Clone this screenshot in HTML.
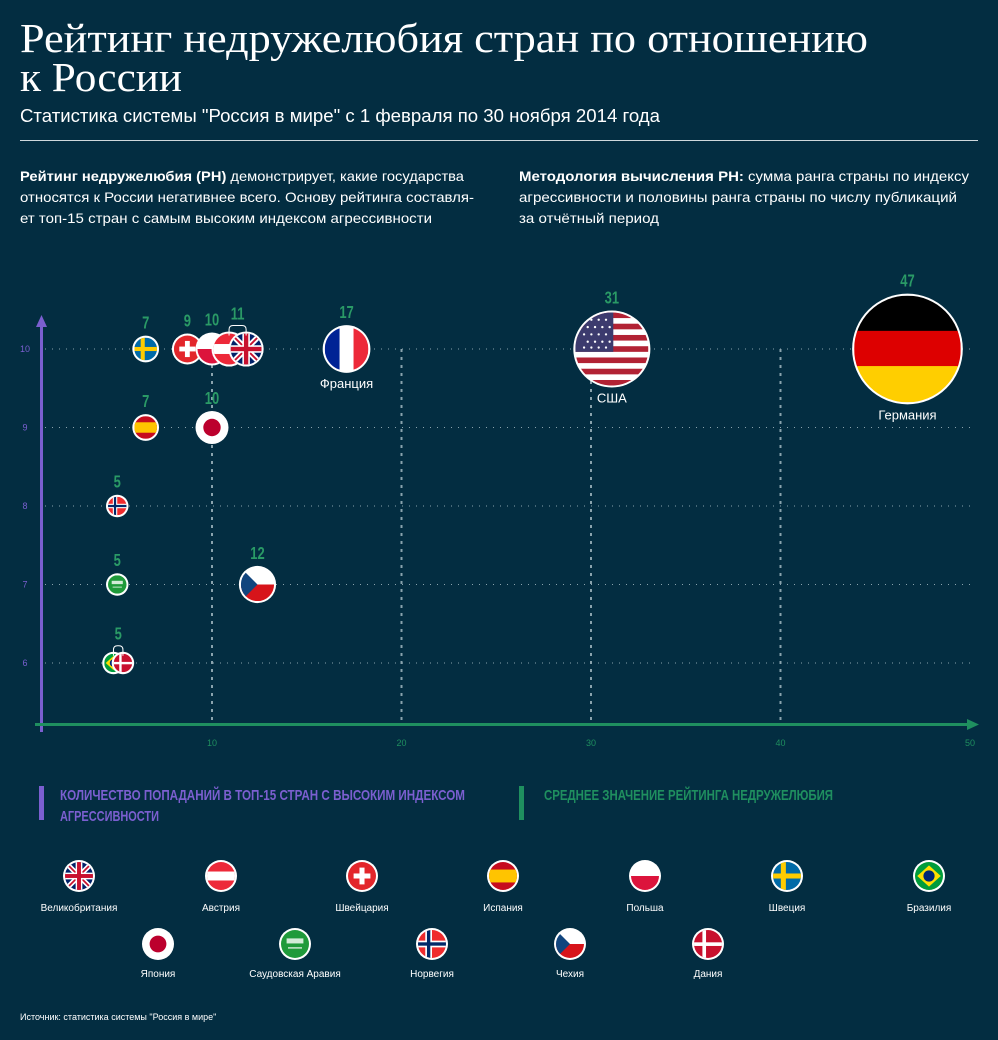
<!DOCTYPE html>
<html><head><meta charset="utf-8"><style>
html,body{margin:0;padding:0;background:#032d41;}
svg{display:block;}
.t{font-family:"Liberation Sans",sans-serif;fill:#fff;}
.n{font-family:"Liberation Sans Narrow","Liberation Sans",sans-serif;}
</style></head><body>
<svg id="root" width="998" height="1040" viewBox="0 0 998 1040" xmlns="http://www.w3.org/2000/svg">
<defs>
<clipPath id="cc" clipPathUnits="objectBoundingBox"><circle cx="0.5" cy="0.5" r="0.5"/></clipPath>
<symbol id="f-se" viewBox="0 0 100 100"><rect width="100" height="100" fill="#006aa7"/><rect x="28" width="18" height="100" fill="#fecc00"/><rect y="41" width="100" height="18" fill="#fecc00"/></symbol>
<symbol id="f-ch" viewBox="0 0 100 100"><rect width="100" height="100" fill="#e3262b"/><rect x="41" y="20" width="18" height="60" fill="#fff"/><rect x="20" y="41" width="60" height="18" fill="#fff"/></symbol>
<symbol id="f-pl" viewBox="0 0 100 100"><rect width="100" height="100" fill="#fff"/><rect y="50" width="100" height="50" fill="#dc143c"/></symbol>
<symbol id="f-at" viewBox="0 0 100 100"><rect width="100" height="100" fill="#ed2939"/><rect y="34" width="100" height="32" fill="#fff"/></symbol>
<symbol id="f-gb" viewBox="0 0 100 100"><rect width="100" height="100" fill="#012169"/><path d="M0 0L100 100M100 0L0 100" stroke="#fff" stroke-width="18"/><path d="M0 0L100 100M100 0L0 100" stroke="#c8102e" stroke-width="6"/><rect x="38" width="24" height="100" fill="#fff"/><rect y="38" width="100" height="24" fill="#fff"/><rect x="43" width="14" height="100" fill="#c8102e"/><rect y="43" width="100" height="14" fill="#c8102e"/></symbol>
<symbol id="f-fr" viewBox="0 0 100 100"><rect width="100" height="100" fill="#fff"/><rect width="34" height="100" fill="#002395"/><rect x="66" width="34" height="100" fill="#ed2939"/></symbol>
<symbol id="f-us" viewBox="0 0 100 100"><rect width="100" height="100" fill="#fff"/><g fill="#b22234"><rect y="0" width="100" height="7.7"/><rect y="15.4" width="100" height="7.7"/><rect y="30.8" width="100" height="7.7"/><rect y="46.2" width="100" height="7.7"/><rect y="61.6" width="100" height="7.7"/><rect y="77" width="100" height="7.7"/><rect y="92.4" width="100" height="7.7"/></g><rect width="52" height="53.9" fill="#3c3b6e"/><g fill="#fff"><circle cx="12" cy="10" r="1.6"/><circle cx="22" cy="10" r="1.6"/><circle cx="32" cy="10" r="1.6"/><circle cx="42" cy="10" r="1.6"/><circle cx="17" cy="20" r="1.6"/><circle cx="27" cy="20" r="1.6"/><circle cx="37" cy="20" r="1.6"/><circle cx="47" cy="20" r="1.6"/><circle cx="12" cy="30" r="1.6"/><circle cx="22" cy="30" r="1.6"/><circle cx="32" cy="30" r="1.6"/><circle cx="42" cy="30" r="1.6"/><circle cx="17" cy="40" r="1.6"/><circle cx="27" cy="40" r="1.6"/><circle cx="37" cy="40" r="1.6"/><circle cx="47" cy="40" r="1.6"/><circle cx="12" cy="48" r="1.6"/><circle cx="22" cy="48" r="1.6"/><circle cx="32" cy="48" r="1.6"/><circle cx="42" cy="48" r="1.6"/></g></symbol>
<symbol id="f-de" viewBox="0 0 100 100"><rect width="100" height="34" fill="#000"/><rect y="33" width="100" height="34" fill="#dd0000"/><rect y="66" width="100" height="34" fill="#ffce00"/></symbol>
<symbol id="f-es" viewBox="0 0 100 100"><rect width="100" height="100" fill="#c60b1e"/><rect y="27" width="100" height="46" fill="#ffc400"/></symbol>
<symbol id="f-jp" viewBox="0 0 100 100"><rect width="100" height="100" fill="#fff"/><circle cx="50" cy="50" r="30" fill="#bc002d"/></symbol>
<symbol id="f-no" viewBox="0 0 100 100"><rect width="100" height="100" fill="#ef2b2d"/><rect x="26" width="24" height="100" fill="#fff"/><rect y="38" width="100" height="24" fill="#fff"/><rect x="32" width="12" height="100" fill="#002868"/><rect y="44" width="100" height="12" fill="#002868"/></symbol>
<symbol id="f-sa" viewBox="0 0 100 100"><rect width="100" height="100" fill="#1f9a3a"/><rect x="20" y="30" width="60" height="18" fill="#fff" opacity="0.8"/><rect x="25" y="62" width="50" height="4" fill="#fff"/></symbol>
<symbol id="f-cz" viewBox="0 0 100 100"><rect width="100" height="100" fill="#fff"/><rect y="50" width="100" height="50" fill="#d7141a"/><path d="M0 0L50 50L0 100Z" fill="#11457e"/></symbol>
<symbol id="f-br" viewBox="0 0 100 100"><rect width="100" height="100" fill="#009c3b"/><path d="M50 12L92 50L50 88L8 50Z" fill="#ffdf00"/><circle cx="50" cy="50" r="20" fill="#002776"/></symbol>
<symbol id="f-dk" viewBox="0 0 100 100"><rect width="100" height="100" fill="#c8102e"/><rect x="30" width="13" height="100" fill="#fff"/><rect y="44" width="100" height="13" fill="#fff"/></symbol>
</defs>

<g>
<text class="t" x="20" y="52" style="font-family:'Liberation Serif',serif" font-size="41" textLength="848" lengthAdjust="spacingAndGlyphs">Рейтинг недружелюбия стран по отношению</text>
<text class="t" x="20" y="91" style="font-family:'Liberation Serif',serif" font-size="41" textLength="162" lengthAdjust="spacingAndGlyphs">к России</text>
<text class="t" x="20" y="122" font-size="18" textLength="640" lengthAdjust="spacingAndGlyphs">Статистика системы "Россия в мире" с 1 февраля по 30 ноября 2014 года</text>
<rect x="20" y="140" width="958" height="1" fill="#cfd8dc"/>
<text class="t" x="20" y="181" font-size="14" textLength="444" lengthAdjust="spacingAndGlyphs"><tspan font-weight="bold">Рейтинг недружелюбия (РН)</tspan> демонстрирует, какие государства</text>
<text class="t" x="20" y="202" font-size="14" textLength="454" lengthAdjust="spacingAndGlyphs">относятся к России негативнее всего. Основу рейтинга составля-</text>
<text class="t" x="20" y="223" font-size="14" textLength="412" lengthAdjust="spacingAndGlyphs">ет топ-15 стран с самым высоким индексом агрессивности</text>
<text class="t" x="519" y="181" font-size="14" textLength="450" lengthAdjust="spacingAndGlyphs"><tspan font-weight="bold">Методология вычисления РН:</tspan> сумма ранга страны по индексу</text>
<text class="t" x="519" y="202" font-size="14" textLength="438" lengthAdjust="spacingAndGlyphs">агрессивности и половины ранга страны по числу публикаций</text>
<text class="t" x="519" y="223" font-size="14" textLength="140" lengthAdjust="spacingAndGlyphs">за отчётный период</text>
</g>

<g id="chart"></g>

<g>
<rect x="39" y="786" width="5" height="34" fill="#7b5fd0"/>
<text class="n" x="60" y="800" font-size="15" font-weight="bold" fill="#7b5fd0" textLength="405" lengthAdjust="spacingAndGlyphs">КОЛИЧЕСТВО ПОПАДАНИЙ В ТОП-15 СТРАН С ВЫСОКИМ ИНДЕКСОМ</text>
<text class="n" x="60" y="821" font-size="15" font-weight="bold" fill="#7b5fd0" textLength="99" lengthAdjust="spacingAndGlyphs">АГРЕССИВНОСТИ</text>
<rect x="519" y="786" width="5" height="34" fill="#1f8f5f"/>
<text class="n" x="544" y="800" font-size="15" font-weight="bold" fill="#1f8f5f" textLength="289" lengthAdjust="spacingAndGlyphs">СРЕДНЕЕ ЗНАЧЕНИЕ РЕЙТИНГА НЕДРУЖЕЛЮБИЯ</text>
</g>
<g id="flagkey"></g>
<text class="t" x="20" y="1020" font-size="9">Источник: статистика системы "Россия в мире"</text>
</svg>
<script>
// ---- chart data ----
const countries = ['Швеция','Швейцария','Польша','Австрия','Великобритания','Франция','США','Германия','Испания','Япония','Норвегия','Саудовская Аравия','Чехия','Бразилия','Дания'];
const flagCodes = ['se','ch','pl','at','gb','fr','us','de','es','jp','no','sa','cz','br','dk'];
const avgRating = [6.5,8.7,10,10.9,11.8,17.1,31.1,46.7,6.5,10,5,5,12.4,4.8,5.3];
const topHits = [10,10,10,10,10,10,10,10,9,9,8,7,7,6,6];
const bubbleValue = [7,9,10,11,11,17,31,47,7,10,5,5,12,5,5];
const labelGroups = [[0],[1],[2],[3,4],[5],[6],[7],[8],[9],[10],[11],[12],[13,14]];
const namedCountries = [5,6,7];
const xTicks = [10,20,30,40,50];
const yTicks = [6,7,8,9,10];
// ---- flag key ----
const keyRow1 = ['gb','at','ch','es','pl','se','br'];
const keyRow1Names = ['Великобритания','Австрия','Швейцария','Испания','Польша','Швеция','Бразилия'];
const keyRow2 = ['jp','sa','no','cz','dk'];
const keyRow2Names = ['Япония','Саудовская Аравия','Норвегия','Чехия','Дания'];

const NS='http://www.w3.org/2000/svg';
function mk(tag,attrs,parent){const e=document.createElementNS(NS,tag);for(const k in attrs)e.setAttribute(k,attrs[k]);parent.appendChild(e);return e;}
const X=v=>22.5+v*18.95;
const Y=v=>349+(10-v)*78.5;
const R=v=>4+v*1.05;
const chart=document.getElementById('chart');

yTicks.forEach(t=>{
  const l=mk('line',{x1:45,x2:970,y1:Y(t),y2:Y(t),stroke:'#8aa3ad','stroke-width':1,'stroke-dasharray':'1 6'},chart);
  
  
  const tx=mk('text',{x:25,y:Y(t)+3,'font-size':9,fill:'#7b5fd0','text-anchor':'middle',class:'n'},chart);
  tx.textContent=t;
  
  
});
xTicks.forEach(t=>{
  if(t<50){
    const l=mk('line',{x1:X(t),x2:X(t),y1:Y(10),y2:720,stroke:'#8aa3ad','stroke-width':2,'stroke-dasharray':'3 5'},chart);
    
    
  }
  const tx=mk('text',{x:X(t),y:746,'font-size':9,fill:'#1f8f5f','text-anchor':'middle',class:'n'},chart);
  tx.textContent=t;
  
  
});
const ya=mk('g',{},chart);


mk('line',{x1:41.5,x2:41.5,y1:322,y2:732,stroke:'#7b5fd0','stroke-width':3},ya);
mk('path',{d:'M36 327L41.5 315L47 327Z',fill:'#7b5fd0'},ya);
const xa=mk('g',{},chart);


mk('line',{x1:35,x2:972,y1:724.5,y2:724.5,stroke:'#1f8f5f','stroke-width':3},xa);
mk('path',{d:'M967 719L979 724.5L967 730Z',fill:'#1f8f5f'},xa);

countries.forEach((c,i)=>{
  const g=mk('g',{},chart);
  
  
  const cx=X(avgRating[i]),cy=Y(topHits[i]),r=R(bubbleValue[i]);
  mk('circle',{cx,cy,r:r+2,fill:'#fff'},g);
  mk('use',{href:'#f-'+flagCodes[i],x:cx-r,y:cy-r,width:2*r,height:2*r,'clip-path':'url(#cc)'},g);
  const t=mk('title',{},g);t.textContent=c;
});
labelGroups.forEach(gr=>{
  const i0=gr[0],i1=gr[gr.length-1];
  const cy=Y(topHits[i0]);
  const r=Math.max(...gr.map(i=>R(bubbleValue[i])));
  const mx=(X(avgRating[i0])+X(avgRating[i1]))/2;
  let ly=cy-r-9;
  if(gr.length>1){
    const x0=X(avgRating[i0]),x1=X(avgRating[i1]),top=cy-r-8;
    const b=mk('path',{d:`M${x0} ${cy-r+2}L${x0} ${top+4}Q${x0} ${top} ${x0+4} ${top}L${x1-4} ${top}Q${x1} ${top} ${x1} ${top+4}L${x1} ${cy-r+2}`,fill:'none',stroke:'#fff','stroke-width':1},chart);
    
    
    ly=top-6;
  }
  const t=mk('text',{x:mx,y:ly,'font-size':18,'font-weight':'bold',fill:'#2a9a66','text-anchor':'middle',class:'n',transform:`translate(${mx} 0) scale(0.72 1) translate(${-mx} 0)`},chart);
  t.textContent=bubbleValue[i0];
  
  
});
namedCountries.forEach(i=>{
  const t=mk('text',{x:X(avgRating[i]),y:Y(topHits[i])+R(bubbleValue[i])+17,'font-size':13,fill:'#fff','text-anchor':'middle',class:'t'},chart);
  t.textContent=countries[i];
  
  
});

const fk=document.getElementById('flagkey');
function keyItem(code,name,cx,cy,ty){
  const g=mk('g',{},fk);
  
  
  mk('circle',{cx,cy,r:16,fill:'#fff'},g);
  mk('use',{href:'#f-'+code,x:cx-14,y:cy-14,width:28,height:28,'clip-path':'url(#cc)'},g);
  const t=mk('text',{x:cx,y:ty,'font-size':10,fill:'#fff','text-anchor':'middle',class:'t'},g);
  t.textContent=name;
}
const r1x=[79,221,362,503,645,787,929];
keyRow1.forEach((c,i)=>keyItem(c,keyRow1Names[i],r1x[i],876,911));
const r2x=[158,295,432,570,708];
keyRow2.forEach((c,i)=>keyItem(c,keyRow2Names[i],r2x[i],944,977));
</script>
</body></html>
